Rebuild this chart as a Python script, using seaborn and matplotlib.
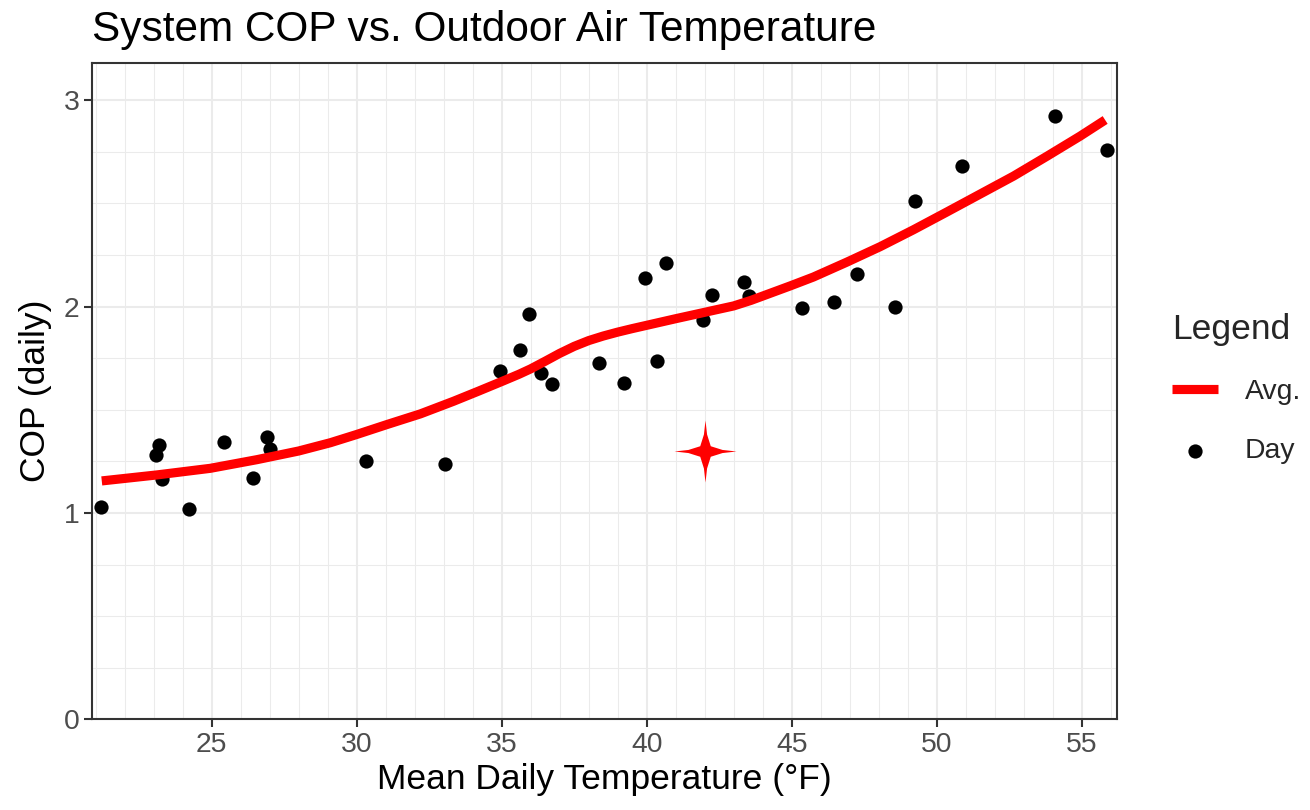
import numpy as np
import pandas as pd
import matplotlib
matplotlib.use("Agg")
import matplotlib.pyplot as plt
import seaborn as sns
from matplotlib.path import Path
from matplotlib.markers import MarkerStyle
from matplotlib.ticker import MultipleLocator

# ---------------- data ----------------
temp_f = [21.19, 23.09, 23.19, 23.30, 24.21, 25.42, 26.41, 26.91, 27.01, 30.33,
          33.03, 34.94, 35.64, 35.94, 36.35, 36.74, 38.34, 39.23, 39.95, 40.34,
          40.66, 41.95, 42.26, 43.35, 43.54, 45.35, 46.47, 47.27, 48.57, 49.27,
          50.88, 54.09, 55.89]
cop_daily = [1.029, 1.282, 1.328, 1.166, 1.019, 1.342, 1.171, 1.366, 1.308, 1.253,
             1.235, 1.690, 1.790, 1.963, 1.679, 1.627, 1.724, 1.630, 2.138, 1.734,
             2.209, 1.937, 2.054, 2.117, 2.050, 1.992, 2.021, 2.159, 2.000, 2.510,
             2.681, 2.921, 2.759]

# smoothed average curve
avg_x = [21.21, 23.11, 24.95, 26.56, 28.00, 29.09, 30.00, 31.04, 32.20, 33.34,
         34.20, 35.06, 35.60, 36.00, 36.50, 37.00, 37.50, 38.00, 38.50, 39.00,
         39.50, 40.00, 41.00, 42.00, 43.00, 43.60, 44.14, 44.95, 45.75, 46.90,
         48.05, 49.20, 50.35, 51.50, 52.65, 53.80, 54.95, 55.81]
avg_y = [1.155, 1.184, 1.216, 1.258, 1.300, 1.340, 1.380, 1.428, 1.480, 1.541,
         1.590, 1.640, 1.672, 1.698, 1.735, 1.773, 1.807, 1.835, 1.857, 1.876,
         1.893, 1.909, 1.941, 1.972, 2.003, 2.030, 2.058, 2.100, 2.143, 2.215,
         2.290, 2.372, 2.458, 2.545, 2.632, 2.728, 2.826, 2.904]

star_x = [42.0]
star_y = [1.30]

x_ticks = [25, 30, 35, 40, 45, 50, 55]
y_ticks = [0, 1, 2, 3]

title = "System COP vs. Outdoor Air Temperature"
x_label = "Mean Daily Temperature (°F)"
y_label = "COP (daily)"
legend_title = "Legend"
avg_label = "Avg."
day_label = "Day"

# ---------------- style ----------------
sns.set_theme(style="white")
plt.rcParams['font.family'] = ['Liberation Sans', 'DejaVu Sans']

BASE = 25.5
TICK = 20.4
GRID = "#EBEBEB"
BORDER = "#333333"

fig = plt.figure(figsize=(13.1, 8.1), dpi=100)
ax = fig.add_axes([0.0706, 0.1120, 0.7821, 0.8102])

day_df = pd.DataFrame({"temp": temp_f, "cop": cop_daily})
avg_df = pd.DataFrame({"temp": avg_x, "cop": avg_y})
star_df = pd.DataFrame({"temp": star_x, "cop": star_y})

sns.scatterplot(data=day_df, x="temp", y="cop", color="black", s=105,
                linewidth=0, ax=ax, label=day_label, zorder=3)
sns.lineplot(data=avg_df, x="temp", y="cop", color="#FF0000", linewidth=6.6,
             sort=False, ax=ax, label=avg_label, zorder=4,
             solid_capstyle="butt", solid_joinstyle="round")

# four-pointed star marker
star_verts = [(0, 1), (0.05, 0.55), (0.17, 0.17), (0.55, 0.05),
              (1, 0), (0.55, -0.05), (0.17, -0.17), (0.05, -0.55),
              (0, -1), (-0.05, -0.55), (-0.17, -0.17), (-0.55, -0.05),
              (-1, 0), (-0.55, 0.05), (-0.17, 0.17), (-0.05, 0.55), (0, 1)]
star_path = Path(star_verts, [Path.MOVETO] + [Path.LINETO] * (len(star_verts) - 2) + [Path.CLOSEPOLY])
sns.scatterplot(data=star_df, x="temp", y="cop", marker=MarkerStyle(star_path),
                s=1990, color="#FF0000", linewidth=0, ax=ax, zorder=5, legend=False)

# axes limits and ticks
ax.set_xlim(20.89, 56.22)
ax.set_ylim(0, 3.18)
ax.set_xticks(x_ticks)
ax.set_yticks(y_ticks)
ax.xaxis.set_minor_locator(MultipleLocator(1))
ax.yaxis.set_minor_locator(MultipleLocator(0.25))

ax.set_axisbelow(True)
ax.grid(which="major", color=GRID, linewidth=1.5)
ax.grid(which="minor", color=GRID, linewidth=0.75)

for sp in ax.spines.values():
    sp.set_color(BORDER)
    sp.set_linewidth(1.5)

ax.tick_params(which="major", direction="out", length=6, width=1.5, color=BORDER,
               labelsize=TICK, labelcolor="#4D4D4D", pad=3.5,
               bottom=True, left=True)
ax.tick_params(which="minor", length=0)

ax.set_xlabel(x_label, fontsize=BASE, color="black", labelpad=3)
ax.set_ylabel(y_label, fontsize=BASE, color="black", labelpad=8)
ax.set_title(title, fontsize=30.5, color="black", loc="left", pad=16)

# legend
handles, labels = ax.get_legend_handles_labels()
hmap = dict(zip(labels, handles))
if ax.get_legend() is not None:
    ax.get_legend().remove()
leg = ax.legend([hmap[avg_label], hmap[day_label]], [avg_label, day_label],
                title=legend_title, loc="upper left",
                bbox_to_anchor=(1172 / 1310, 1 - 313 / 810),
                bbox_transform=fig.transFigure, frameon=False,
                fontsize=TICK, title_fontsize=BASE, handlelength=1.61,
                handletextpad=0.95, labelspacing=1.17, borderpad=0,
                borderaxespad=0, alignment="left")

fig.savefig("out.png", dpi=100)
